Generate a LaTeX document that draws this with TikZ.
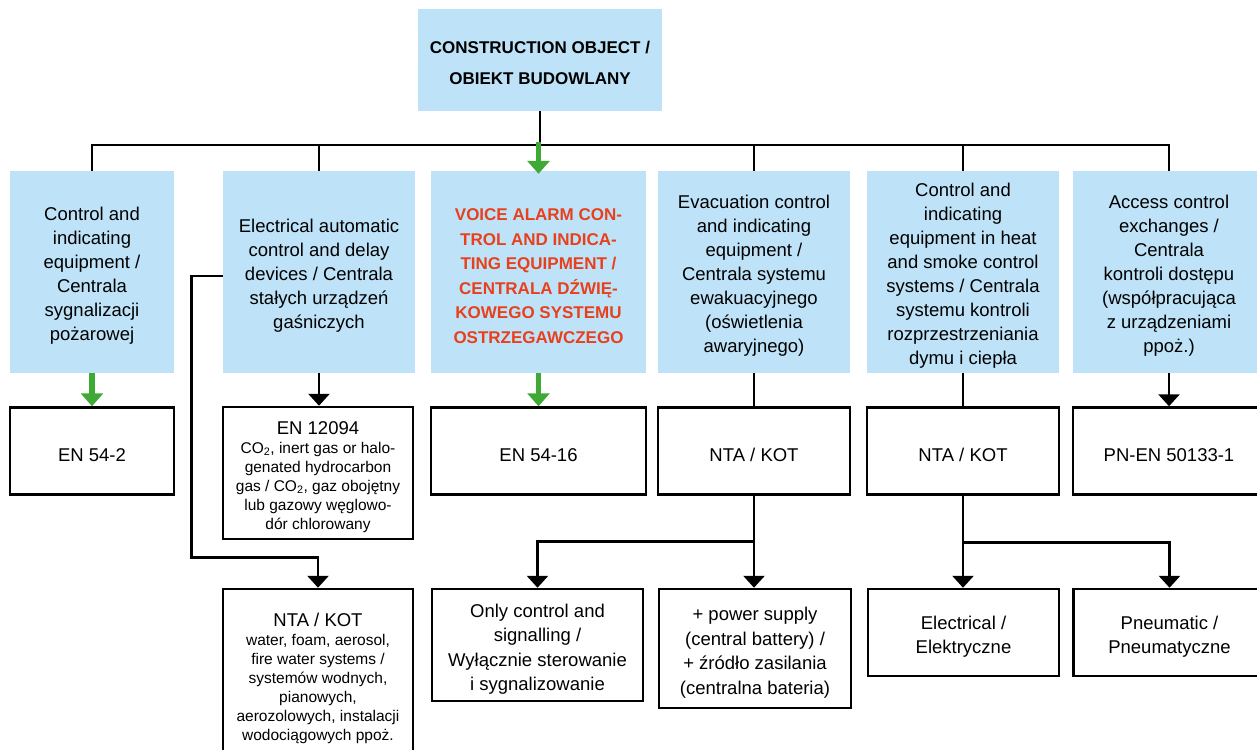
\documentclass[tikz,border=0pt]{standalone}
\usepackage{fontspec}
\setmainfont{Liberation Sans}
\usetikzlibrary{arrows.meta}
\definecolor{lblue}{HTML}{BEE3F8}
\definecolor{vred}{HTML}{E8401C}
\definecolor{grn}{HTML}{3FA935}
\tikzset{
  bluebox/.style={fill=lblue, draw=none, inner sep=0pt},
  wbox/.style={draw=black, line width=2.5pt, fill=white, inner sep=0pt},
  lt/.style={align=center, inner sep=0pt, yshift=-4pt, font=\fontsize{18.5}{24}\selectfont},
  ltw/.style={lt, font=\fontsize{18.5}{24.5}\selectfont},
  lts/.style={lt, font=\fontsize{15.5}{19}\selectfont},
  blk/.style={draw=black, line width=2.9pt, line join=miter},
  arr/.style={blk, -{Triangle[width=21pt,length=12pt]}},
  garr/.style={draw=grn, line width=5.5pt, -{Triangle[width=22pt,length=13pt]}},
}
\begin{document}
\begin{tikzpicture}[x=1pt,y=-1pt]
\clip (0,0) rectangle (1257,749);
\fill[white] (0,0) rectangle (1257,749);

% top
\node[bluebox, minimum width=244pt, minimum height=102pt,
  label={[lt, yshift=1pt, font=\bfseries\fontsize{17}{31}\selectfont]center:{CONSTRUCTION OBJECT /\\OBIEKT BUDOWLANY}}] (top) at (540,60) {};

% columns
\node[bluebox, minimum width=164pt, minimum height=202pt,
  label={[lt]center:{Control and\\indicating\\equipment /\\Centrala\\sygnalizacji\\pożarowej}}] (c1) at (92,272) {};
\node[bluebox, minimum width=192pt, minimum height=202pt,
  label={[lt]center:{Electrical automatic\\control and delay\\devices / Centrala\\stałych urządzeń\\gaśniczych}}] (c2) at (319,272) {};
\node[bluebox, minimum width=215pt, minimum height=202pt,
  label={[lt, text=vred, font=\bfseries\fontsize{17}{24.5}\selectfont]center:{VOICE ALARM CON-\\TROL AND INDICA-\\TING EQUIPMENT /\\CENTRALA DŹWIĘ-\\KOWEGO SYSTEMU\\OSTRZEGAWCZEGO}}] (c3) at (538.5,272) {};
\node[bluebox, minimum width=192pt, minimum height=202pt,
  label={[lt]center:{Evacuation control\\and indicating\\equipment /\\Centrala systemu\\ewakuacyjnego\\(oświetlenia\\awaryjnego)}}] (c4) at (754,272) {};
\node[bluebox, minimum width=192pt, minimum height=202pt,
  label={[lt]center:{Control and\\indicating\\equipment in heat\\and smoke control\\systems / Centrala\\systemu kontroli\\rozprzestrzeniania\\dymu i ciepła}}] (c5) at (963,272) {};
\node[bluebox, minimum width=192pt, minimum height=202pt,
  label={[lt]center:{Access control\\exchanges /\\Centrala\\kontroli dostępu\\(współpracująca\\z urządzeniami\\ppoż.)}}] (c6) at (1169,272) {};

% second row
\node[wbox, minimum width=164pt, minimum height=87pt, label={[ltw]center:EN 54-2}] (l1) at (92,451) {};
\node[wbox, minimum width=190pt, minimum height=132pt,
  label={[lts]center:{{\fontsize{18.5}{19}\selectfont EN 12094}\\CO\textsubscript{2}, inert gas or halo-\\genated hydrocarbon\\gas / CO\textsubscript{2}, gaz obojętny\\lub gazowy węglowo-\\dór chlorowany}}] (l2) at (318,473) {};
\node[wbox, minimum width=215pt, minimum height=87pt, label={[ltw]center:EN 54-16}] (l3) at (538.5,451) {};
\node[wbox, minimum width=192pt, minimum height=87pt, label={[ltw]center:NTA / KOT}] (l4) at (754,451) {};
\node[wbox, minimum width=192pt, minimum height=87pt, label={[ltw]center:NTA / KOT}] (l5) at (963,451) {};
\node[wbox, minimum width=192pt, minimum height=87pt, label={[ltw]center:PN-EN 50133-1}] (l6) at (1169,451) {};

% third row
\node[wbox, minimum width=190pt, minimum height=171pt,
  label={[lts]center:{{\fontsize{18.5}{19}\selectfont NTA / KOT}\\water, foam, aerosol,\\fire water systems /\\systemów wodnych,\\pianowych,\\aerozolowych, instalacji\\wodociągowych ppoż.}}] (b2) at (318,674.5) {};
\node[wbox, minimum width=211pt, minimum height=112pt,
  label={[ltw]center:{Only control and\\signalling /\\Wyłącznie sterowanie\\i sygnalizowanie}}] (b3) at (537.5,645) {};
\node[wbox, minimum width=192pt, minimum height=119pt,
  label={[ltw]center:{+ power supply\\(central battery) /\\+ źródło zasilania\\(centralna bateria)}}] (b4) at (755,648.5) {};
\node[wbox, minimum width=191pt, minimum height=87pt,
  label={[ltw]center:{Electrical /\\Elektryczne}}] (b5) at (963.5,632.5) {};
\node[wbox, minimum width=192pt, minimum height=87pt,
  label={[ltw]center:{Pneumatic /\\Pneumatyczne}}] (b6) at (1169.5,632.5) {};

% bus
\coordinate (bus) at (540,145);
\draw[blk] (top.south) -- (top.south |- bus);
\draw[blk] (c1.north) -- (c1.north |- bus) -- (c6.north |- bus) -- (c6.north);
\draw[blk] (c2.north |- bus) -- (c2.north);
\draw[blk] (c4.north |- bus) -- (c4.north);
\draw[blk] (c5.north |- bus) -- (c5.north);
\draw[garr] ([yshift=3pt]c3.north |- bus) -- ([yshift=-3pt]c3.north);

% column to second row
\draw[garr] (c1.south) -- (l1.north);
\draw[arr] (c2.south) -- (c2.south |- l2.north);
\draw[garr] (c3.south) -- (l3.north);
\draw[blk] (c4.south) -- (l4.north);
\draw[blk] (c5.south) -- (l5.north);
\draw[arr] (c6.south) -- (l6.north);

% side route col2
\draw[arr] ([yshift=-4pt]c2.west) -- ++(-31,0) |- ([yshift=30pt]b2.north) -- (b2.north);

% branches
\draw[arr] (l4.south) -- ++(0,46) -| (b3.north);
\draw[arr] (l4.south) -- (l4.south |- b4.north);
\draw[arr] (l5.south) -- ++(0,47) -| (b6.north);
\draw[arr] (l5.south) -- (l5.south |- b5.north);
\end{tikzpicture}
\end{document}
